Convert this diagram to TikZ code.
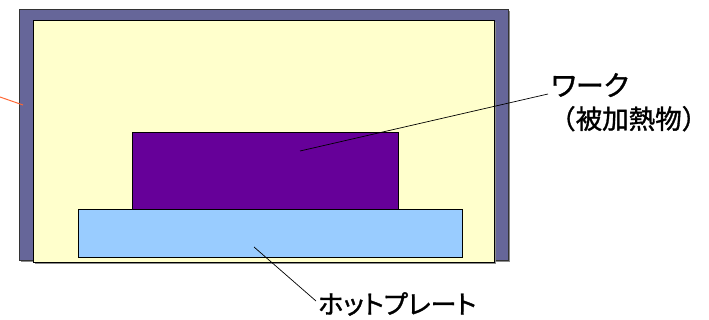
\documentclass[tikz,border=0pt]{standalone}
\usepackage{fontspec}
\newfontfamily\jpfont[FakeBold=1.2]{Noto Sans CJK JP}
\newfontfamily\jppfont[FakeBold=1.2,RawFeature=+palt]{Noto Sans CJK JP}
\definecolor{framec}{HTML}{666699}
\definecolor{ovenc}{HTML}{FFFFCC}
\definecolor{workc}{HTML}{660099}
\definecolor{platec}{HTML}{99CCFF}
\definecolor{leadc}{HTML}{FF6633}
\begin{document}
\begin{tikzpicture}[x=1pt,y=-1pt,
  box/.style={draw=black,line width=0.9pt},
  leader/.style={draw=black,line width=0.7pt},
  label/.style={font=\jppfont\fontsize{28}{33}\selectfont,inner sep=0pt,align=left}]
\useasboundingbox (0,0) rectangle (709,320);
% frame
\fill[black!45] (21,11) rectangle (510,262);
\draw[fill=framec,draw=black!80,line width=0.8pt] (19,9) rectangle (508,260);
% oven interior
\fill[black!45] (35,22) rectangle (496,264);
\draw[box,fill=ovenc] (33,20) rectangle (494,262);
% work
\draw[box,fill=workc] (132,132) rectangle (398,209);
% hot plate
\draw[box,fill=platec] (78,209) rectangle (462,257);
% anchors
\coordinate (wp) at (300,151);
\coordinate (hp) at (254,247);
\coordinate (lo1) at (0,97);
\coordinate (lo2) at (23,105);
\node[label,anchor=north west] (work) at (551,73) {ワーク\\[0pt]\hspace*{-2pt}{\jpfont\fontsize{26.5}{33}\selectfont（被加熱物）}};
\node[label,anchor=north west,font=\jppfont\fontsize{26}{32}\selectfont] (plate) at (318,292) {ホットプレート};
\draw[leader] (wp) -- (548,94) coordinate (we);
\draw[leader] (hp) -- (316,301) coordinate (pe);
\draw[leadc,line width=1pt] (lo1) -- (lo2);
\end{tikzpicture}
\end{document}
